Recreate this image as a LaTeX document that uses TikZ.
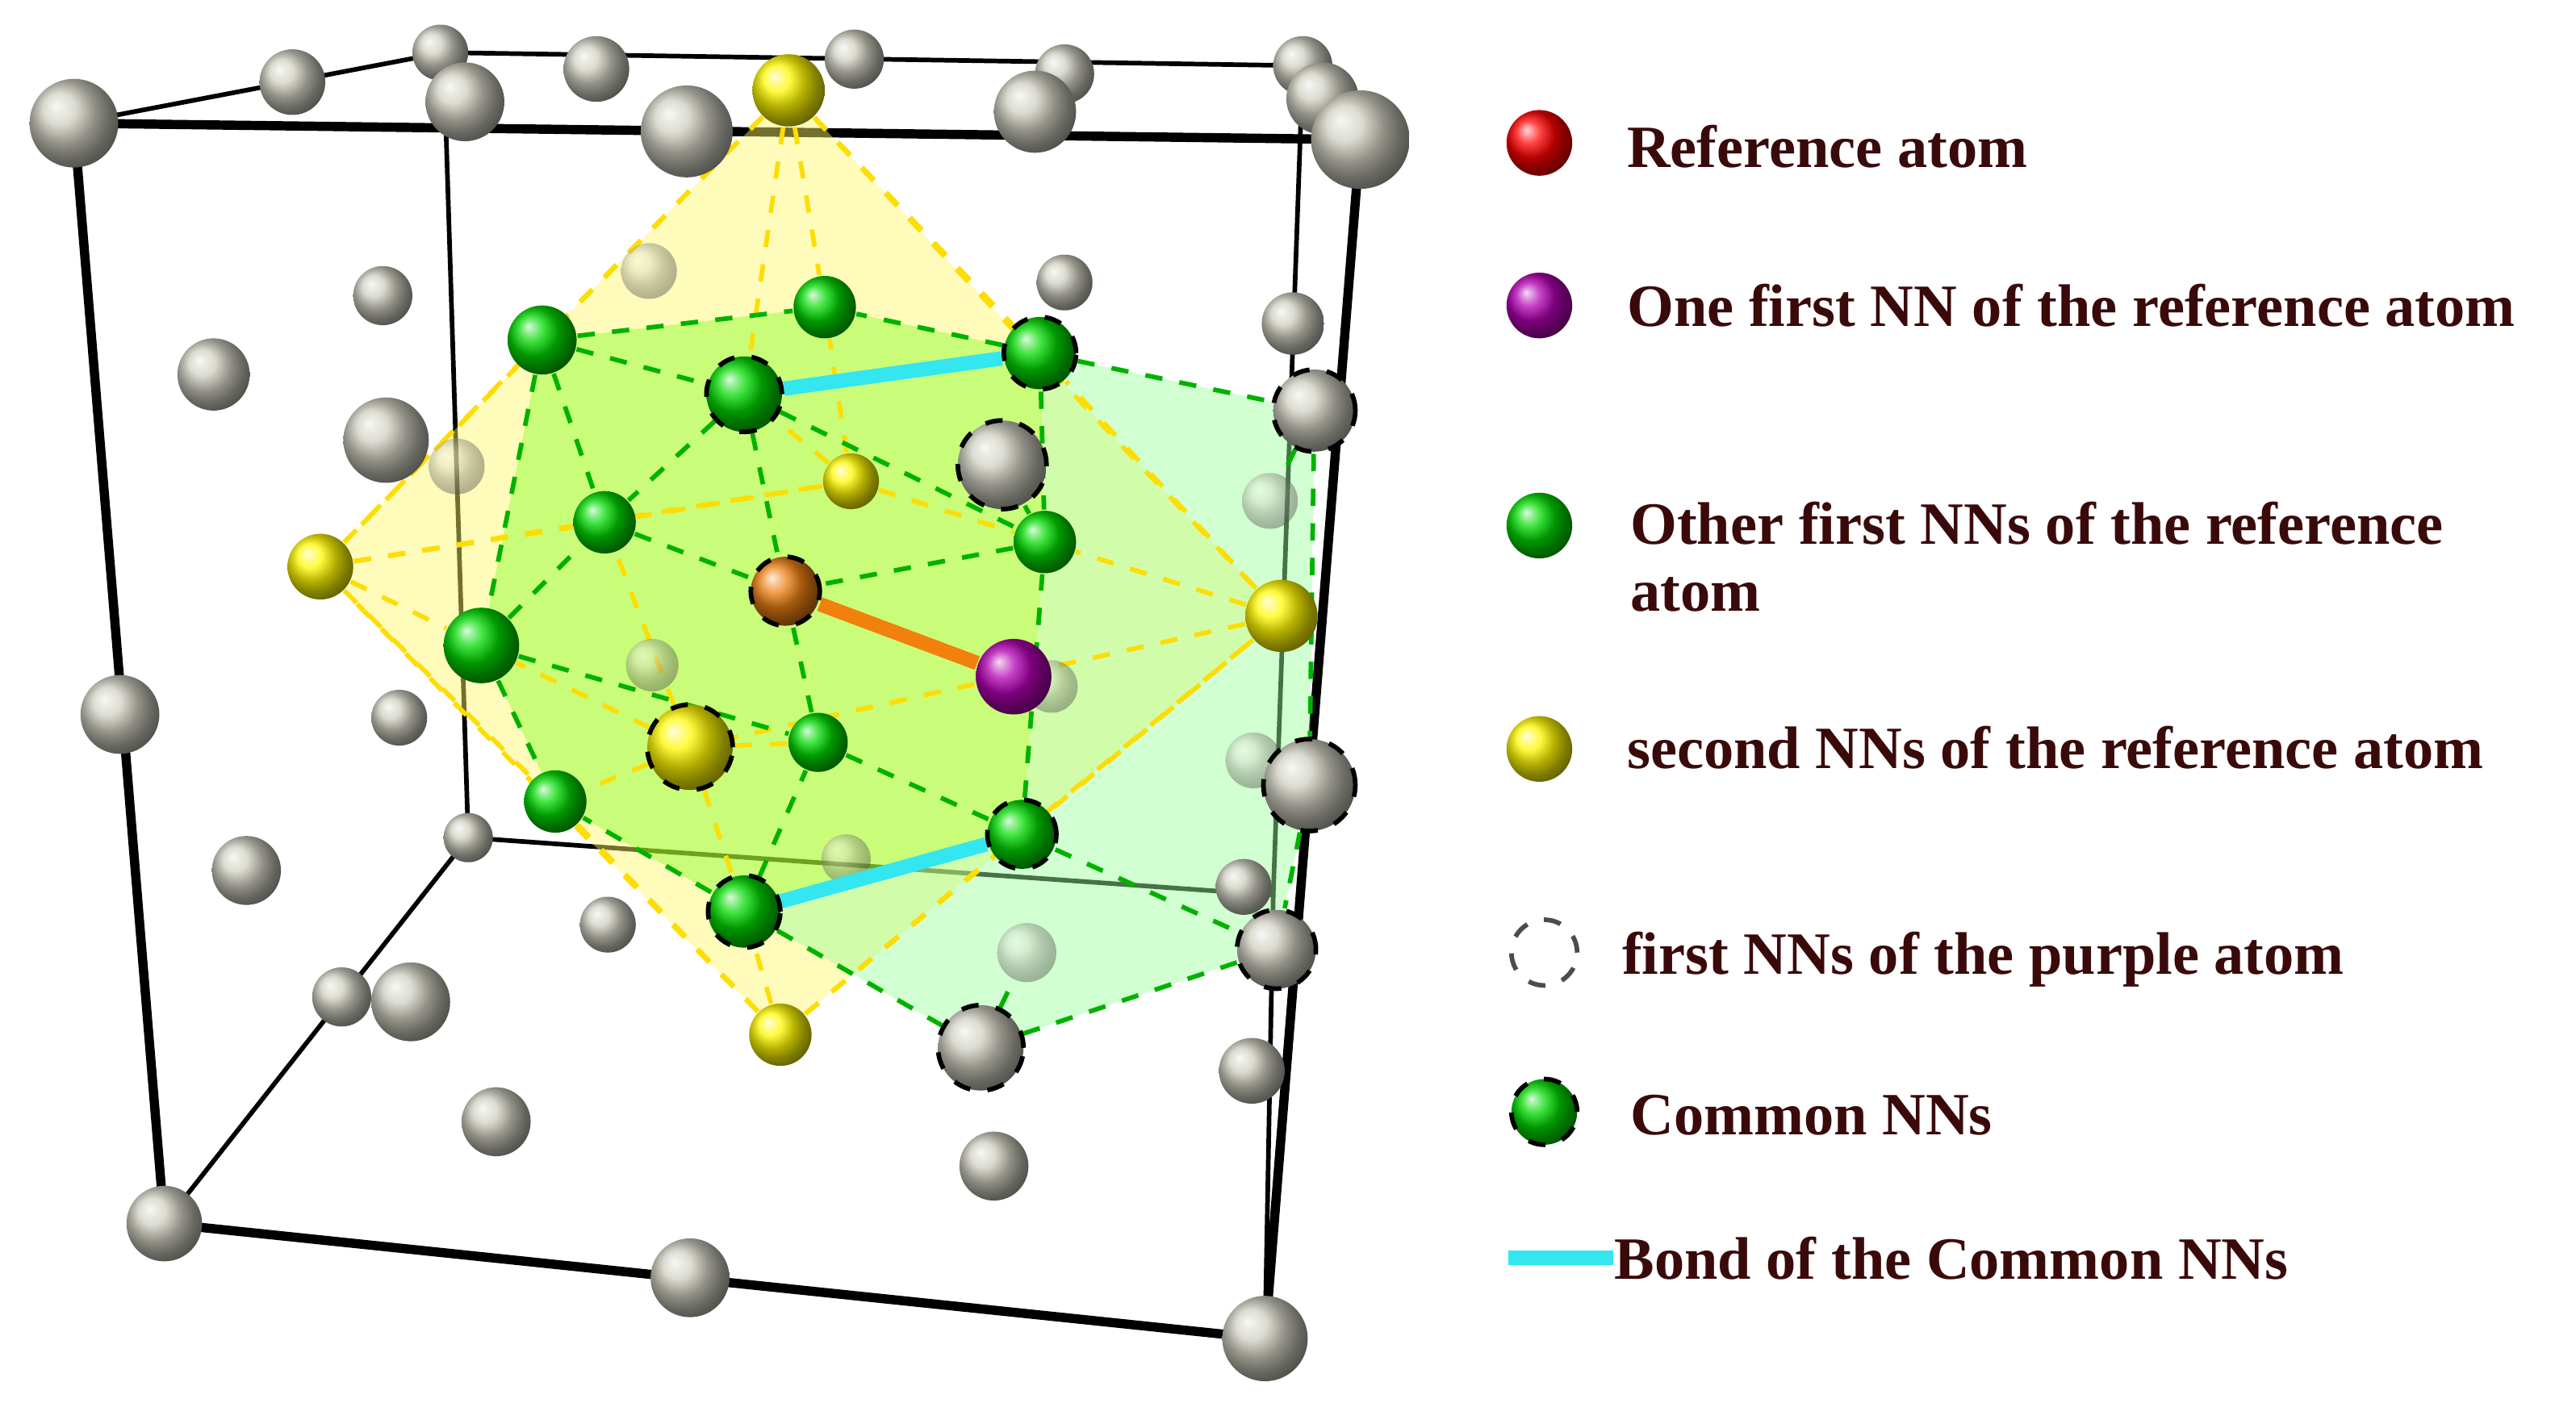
\documentclass[tikz,border=0pt]{standalone}
\usepackage{fontspec}
\setmainfont{Liberation Serif}
\usetikzlibrary{positioning}
\pgfdeclarelayer{bg}
\pgfsetlayers{bg,main}
\definecolor{txt}{HTML}{3A0A0A}
\definecolor{bondc}{HTML}{33E6F0}
\definecolor{grayball}{HTML}{CFCFC2}
\tikzset{
    atom/.style={circle, inner sep=0mm, draw=none},
    grayatom/.style={atom, ball color=grayball},
    yelatom/.style={atom, ball color=yellow!95!orange},
    grnatom/.style={atom, ball color=green!85!black},
    faded/.style={opacity=.45},
    common/.style={draw=black, dashed, thick},
    nn/.style={dashed, green!70!black, thick},
    nnyel/.style={dashed, yellow!80!orange, thick},
    legtext/.style={anchor=west, text=txt, font=\bfseries\fontsize{10.4}{11.5}\selectfont, align=left}
}
\begin{document}
\begin{tikzpicture}[x=0.1mm, y=-0.1mm]
    \useasboundingbox (0,0) rectangle (1568,854);
    % cube frame
    \coordinate (ftl) at (45,75);
    \coordinate (ftr) at (828,85);
    \coordinate (fbl) at (100,745);
    \coordinate (fbr) at (770,815);
    \coordinate (btl) at (270,32);
    \coordinate (btr) at (793,40);
    \coordinate (bbl) at (285,510);
    \coordinate (bbr) at (775,545);
    \begin{pgfonlayer}{bg}
        \draw[line width=1.6pt] (ftl) -- (ftr) -- (fbr) -- (fbl) -- cycle;
        \draw[thick] (btl) -- (btr) -- (bbr) -- (bbl) -- cycle;
        \draw[thick] (ftl) -- (btl);
        \draw[thick] (ftr) -- (btr);
        \draw[thick] (fbl) -- (bbl);
        \draw[thick] (fbr) -- (bbr);
        % polyhedra
        \fill[yellow!60, opacity=.45] (480,55) -- (195,345) -- (475,630) -- (780,375) -- cycle;
        \fill[green!60!yellow, opacity=.35] (330,207) -- (502,187) -- (633,215) -- (636,330) -- (622,508) -- (453,555) -- (338,488) -- (293,393) -- cycle;
        \fill[green!40, opacity=.45] (633,215) -- (800,250) -- (797,478) -- (777,578) -- (597,638) -- (453,555) -- (622,508) -- (636,330) -- cycle;
    \end{pgfonlayer}

    % gray atoms
    \foreach \n/\x/\y/\r in {1/45/75/27, 2/178/50/20, 3/268/32/17, 4/283/62/24, 5/363/42/20,
        6/418/80/28, 7/520/36/18, 8/648/45/18, 9/630/68/25, 10/793/40/18, 11/805/60/22, 12/828/85/30,
        13/233/180/18, 14/130/228/22, 15/235/268/26, 16/648/172/17, 17/787/197/19, 18/73/435/24,
        19/243/437/17, 20/150/530/21, 21/285/510/15, 22/757/540/17, 23/370/563/17, 24/208/607/18,
        25/250/610/24, 26/302/683/21, 27/762/652/20, 28/605/710/21, 29/100/745/23, 30/420/778/24, 31/770/815/26}
        \node (g\n) [grayatom, minimum size=2*\r*0.1mm] at (\x,\y) {};
    % faded gray atoms behind the polyhedra
    \foreach \n/\x/\y/\r in {1/395/165/17, 2/278/284/17, 3/397/405/16, 4/640/418/16, 5/763/463/17,
        6/515/523/15, 7/625/580/18, 8/773/305/17}
        \node (f\n) [grayatom, faded, minimum size=2*\r*0.1mm] at (\x,\y) {};
    % first NNs of the purple atom
    \foreach \n/\x/\y/\r in {1/800/250/25, 2/610/283/27, 3/797/478/28, 4/777/578/24, 5/597/638/26}
        \node (p\n) [grayatom, common, minimum size=2*\r*0.1mm] at (\x,\y) {};
    % second NNs
    \foreach \n/\x/\y/\r in {1/480/55/22, 2/195/345/20, 3/780/375/22, 5/518/293/17, 6/475/630/19}
        \node (y\n) [yelatom, minimum size=2*\r*0.1mm] at (\x,\y) {};
    \node (y4) [yelatom, common, minimum size=5.2mm] at (420,455) {};
    % first NNs
    \foreach \n/\x/\y/\r in {1/330/207/21, 2/502/187/19, 5/368/318/19, 6/636/330/19, 7/293/393/23,
        8/498/452/18, 9/338/488/19}
        \node (c\n) [grnatom, minimum size=2*\r*0.1mm] at (\x,\y) {};
    \foreach \n/\x/\y/\r in {3/453/240/23, 4/633/215/22, 10/622/508/21, 11/453/555/22}
        \node (c\n) [grnatom, common, minimum size=2*\r*0.1mm] at (\x,\y) {};
    \node (ref) [atom, common, ball color=orange!70!brown, minimum size=4.2mm] at (478,360) {};
    \node (pur) [atom, ball color=violet!60!magenta, minimum size=4.6mm] at (617,412) {};

    \begin{pgfonlayer}{bg}
        \draw[nnyel] (y1) edge (y2) edge (y3) edge (c1) edge (c2) edge (c3) edge (c4);
        \draw[nnyel] (y6) edge (y2) edge (y3) edge (c9) edge (c11) edge (c10);
        \draw[nnyel] (y2) edge (c1) edge (c5) edge (c7) edge (c9) edge (y5);
        \draw[nnyel] (y3) edge (c4) edge (c6) edge (c10) edge (y4);
        \draw[nnyel] (y4) edge (c7) edge (c9) edge (c11) edge (c8) edge (c5);
        \draw[nnyel] (y5) edge (c3) edge (c2) edge (c6) edge (c5);
        \draw[nn] (c1) edge (c2) edge (c3) edge (c5) edge (c7);
        \draw[nn] (c4) edge (c2) edge (c3) edge (c6) edge (p1);
        \draw[nn] (c3) edge (c5) edge (c6) edge (ref);
        \draw[nn] (c7) edge (c5) edge (c9) edge (c8);
        \draw[nn] (c11) edge (c9) edge (c8) edge (c10) edge (p5);
        \draw[nn] (c10) edge (c6) edge (c8) edge (p4);
        \draw[nn] (c5) edge (ref) (c8) edge (ref) (c6) edge (ref);
        \draw[nn] (p1) edge (p3) edge (f8) (p3) edge (p4) (p4) edge (p5) (p5) edge (f7) (c6) edge (p2);
    \end{pgfonlayer}
    % bonds
    \draw[line width=2.5pt, orange!80!brown] (ref) -- (pur);
    \draw[line width=2.5pt, bondc] (c3) -- (c4);
    \draw[line width=2.5pt, bondc] (c11) -- (c10);

    % legend
    \node (l1) [atom, ball color=red, minimum size=4mm] at (937,87) {};
    \node (l2) [atom, ball color=violet!60!magenta, minimum size=4mm] at (937,186) {};
    \node (l3) [grnatom, minimum size=4mm] at (937,320) {};
    \node (l4) [yelatom, minimum size=4mm] at (937,456) {};
    \node (l5) [atom, common, draw=black!70, minimum size=4mm] at (940,580) {};
    \node (l6) [grnatom, common, minimum size=4mm] at (940,677) {};
    \coordinate (l7a) at (918,766);
    \coordinate (l7b) at (982,766);
    \draw[line width=2.5pt, bondc] (l7a) -- (l7b);
    \node (t1) [legtext] at (978,89) {Reference atom};
    \node (t2) [legtext] at (978,186) {One first NN of the reference atom};
    \node (t3) [legtext] at (980,339) {Other first NNs of the reference\\atom};
    \node (t4) [legtext] at (978,455) {second NNs of the reference atom};
    \node (t5) [legtext] at (975,584) {first NNs of the purple atom};
    \node (t6) [legtext] at (980,679) {Common NNs};
    \node (t7) [legtext, inner sep=0pt] at (l7b) {Bond of the Common NNs};
\end{tikzpicture}
\end{document}
